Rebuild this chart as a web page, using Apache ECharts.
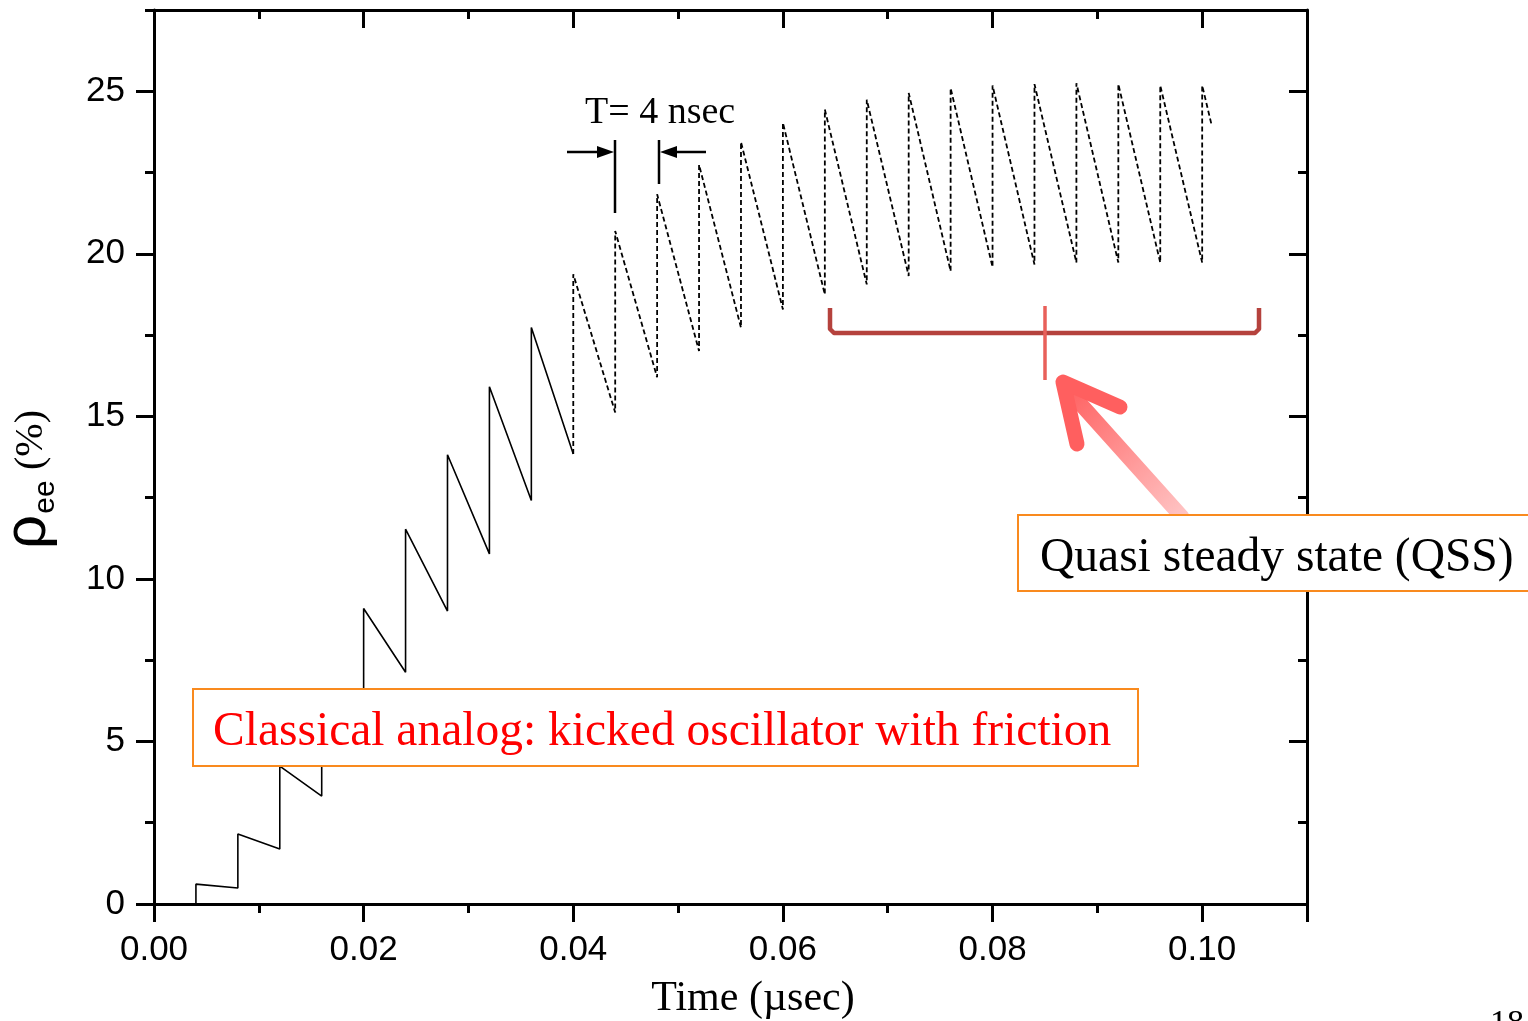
<!DOCTYPE html>
<html lang="en">
<head>
<meta charset="UTF-8">
<title>rho_ee vs time</title>
<script src="https://cdn.jsdelivr.net/npm/echarts@6/dist/echarts.min.js"></script>
<style>
    body { margin: 0; padding: 0; background: #fff; }
</style>
</head>
<body>
<div id="main" style="width:1528px;height:1021px;"></div>
<script>
// kick times (usec) and rho_ee (%) just before / just after each kick
var kickTimes = [0.004, 0.008, 0.012, 0.016, 0.020, 0.024, 0.028, 0.032, 0.036, 0.040,
                 0.044, 0.048, 0.052, 0.056, 0.060, 0.064, 0.068, 0.072, 0.076, 0.080,
                 0.084, 0.088, 0.092, 0.096, 0.100];
var beforeKick = [0, 0.49, 1.69, 3.32, 5.2, 7.13, 9.01, 10.77, 12.41, 13.84,
                  15.12, 16.20, 17.01, 17.73, 18.29, 18.75, 19.06, 19.32, 19.47, 19.59,
                  19.67, 19.73, 19.73, 19.73, 19.73];
var afterKick = [0.61, 2.15, 4.24, 6.63, 9.09, 11.53, 13.82, 15.91, 17.73, 19.37,
                 20.70, 21.83, 22.74, 23.44, 24.03, 24.44, 24.74, 24.95, 25.10, 25.18,
                 25.22, 25.25, 25.22, 25.18, 25.18];
var lastPoint = [0.1009, 23.96];
var dashFrom = 0.040;

var xLabelTicks = [0, 0.02, 0.04, 0.06, 0.08, 0.10];
var xMajorTicks = [0, 0.02, 0.04, 0.06, 0.08, 0.10, 0.11];
var xMinorTicks = [0.01, 0.03, 0.05, 0.07, 0.09];
var yMajorTicks = [0, 5, 10, 15, 20, 25];
var yMinorTicks = [2.5, 7.5, 12.5, 17.5, 22.5, 27.5];

var solidData = [];
var dashData = [];
kickTimes.forEach(function (t, i) {
    if (t <= dashFrom) solidData.push([t, beforeKick[i]]);
    if (t < dashFrom) solidData.push([t, afterKick[i]]);
    if (t >= dashFrom) {
        dashData.push([t, beforeKick[i]]);
        dashData.push([t, afterKick[i]]);
    }
});
dashData.push(lastPoint);

var sans = 'Liberation Sans';
var serif = 'Liberation Serif';

function axis(pos, min, max, ticks, len, inside, opts) {
    opts = opts || {};
    return {
        type: 'value', position: pos, min: min, max: max,
        axisLine: { show: !!opts.line, onZero: false, lineStyle: { color: '#000', width: 3 } },
        axisTick: { show: true, inside: inside, length: len, customValues: ticks,
                    lineStyle: { color: '#000', width: 3 } },
        axisLabel: opts.labels ? {
            show: true, customValues: opts.labels, margin: opts.margin,
            fontFamily: sans, fontSize: 35, color: '#000',
            formatter: opts.fmt
        } : { show: false },
        splitLine: { show: false }
    };
}

var chart = echarts.init(document.getElementById('main'));
var option = {
    animation: false,
    backgroundColor: '#fff',
    grid: { left: 154, right: 221, top: 10, bottom: 117, containLabel: false, outerBoundsMode: 'none' },
    xAxis: [
        axis('bottom', 0, 0.11, xMajorTicks, 18, false, { line: true, labels: xLabelTicks, margin: 29,
            fmt: function (v) { return v.toFixed(2); } }),
        axis('bottom', 0, 0.11, xMinorTicks, 9, false),
        axis('top', 0, 0.11, xMajorTicks, 18, true, { line: true }),
        axis('top', 0, 0.11, xMinorTicks, 9, true)
    ],
    yAxis: [
        axis('left', 0, 27.5, yMajorTicks, 18, false, { line: true, labels: yMajorTicks, margin: 29,
            fmt: function (v) { return String(v); } }),
        axis('left', 0, 27.5, yMinorTicks, 9, false),
        axis('right', 0, 27.5, yMajorTicks, 18, true, { line: true }),
        axis('right', 0, 27.5, yMinorTicks, 9, true)
    ],
    series: [
        {
            type: 'line', data: solidData, showSymbol: false, xAxisIndex: 0, yAxisIndex: 0,
            lineStyle: { color: '#000', width: 1.6 }
        },
        {
            type: 'line', data: dashData, showSymbol: false, xAxisIndex: 0, yAxisIndex: 0,
            lineStyle: { color: '#000', width: 1.8, type: [5, 3] }
        }
    ],
    graphic: [
        // axis titles
        { type: 'text', x: 753, y: 999, z: 50,
          style: { text: 'Time (\u00b5sec)', font: '42px ' + serif, fill: '#000', align: 'center', verticalAlign: 'middle' } },
        { type: 'text', x: 28, y: 532, rotation: Math.PI / 2, z: 50,
          style: { text: '\u03c1', font: '60px ' + sans, fill: '#000', align: 'center', verticalAlign: 'middle' } },
        { type: 'text', x: 46, y: 497, rotation: Math.PI / 2, z: 50,
          style: { text: 'ee', font: '30px ' + sans, fill: '#000', align: 'center', verticalAlign: 'middle' } },
        { type: 'text', x: 31, y: 440, rotation: Math.PI / 2, z: 50,
          style: { text: '(%)', font: '40px ' + serif, fill: '#000', align: 'center', verticalAlign: 'middle' } },

        // period marker
        { type: 'text', x: 585, y: 113, z: 50,
          style: { text: 'T= 4 nsec', font: '38px ' + serif, fill: '#000', align: 'left', verticalAlign: 'middle' } },
        { type: 'line', z: 50, shape: { x1: 567, y1: 152, x2: 600, y2: 152 }, style: { stroke: '#000', lineWidth: 2.5 } },
        { type: 'polygon', z: 50, shape: { points: [[614, 152], [597, 146], [597, 158]] }, style: { fill: '#000' } },
        { type: 'line', z: 50, shape: { x1: 615, y1: 140, x2: 615, y2: 213 }, style: { stroke: '#000', lineWidth: 2.5 } },
        { type: 'line', z: 50, shape: { x1: 659, y1: 140, x2: 659, y2: 184 }, style: { stroke: '#000', lineWidth: 2.5 } },
        { type: 'line', z: 50, shape: { x1: 674, y1: 152, x2: 706, y2: 152 }, style: { stroke: '#000', lineWidth: 2.5 } },
        { type: 'polygon', z: 50, shape: { points: [[660, 152], [677, 146], [677, 158]] }, style: { fill: '#000' } },

        // QSS bracket
        { type: 'polyline', z: 50,
          shape: { points: [[830, 308], [830, 329], [834, 333], [1255, 333], [1259, 329], [1259, 308]] },
          style: { stroke: '#b5423d', lineWidth: 4.5, fill: null, lineJoin: 'round' } },
        { type: 'line', z: 51, shape: { x1: 1045, y1: 306, x2: 1045, y2: 380 },
          style: { stroke: '#e8605a', lineWidth: 3.5 } },

        // big arrow
        { type: 'line', z: 50, shape: { x1: 1182, y1: 517, x2: 1068, y2: 390 },
          style: { lineWidth: 15, lineCap: 'round',
                   stroke: { type: 'linear', x: 0, y: 0, x2: 1, y2: 1,
                             colorStops: [{ offset: 0, color: '#ff5c5c' }, { offset: 1, color: '#ffcaca' }] } } },
        { type: 'polyline', z: 50, shape: { points: [[1077, 444], [1063, 382], [1120, 407]] },
          style: { stroke: '#ff5f5f', lineWidth: 15, lineCap: 'round', lineJoin: 'round', fill: null } },

        // text boxes
        { type: 'rect', z: 60, shape: { x: 1018, y: 515, width: 530, height: 76 },
          style: { fill: '#fff', stroke: '#f98a1e', lineWidth: 2 } },
        { type: 'text', x: 1040, y: 559, z: 61,
          style: { text: 'Quasi steady state (QSS)', font: '47.5px ' + serif, fill: '#000', align: 'left', verticalAlign: 'middle' } },
        { type: 'rect', z: 60, shape: { x: 193, y: 689, width: 945, height: 77 },
          style: { fill: '#fff', stroke: '#f98a1e', lineWidth: 2 } },
        { type: 'text', x: 213, y: 733, z: 61,
          style: { text: 'Classical analog: kicked oscillator with friction', font: '47.5px ' + serif, fill: '#ff0000', align: 'left', verticalAlign: 'middle' } },

        // slide number
        { type: 'text', x: 1490, y: 1007, z: 50,
          style: { text: '18', font: '34px ' + serif, fill: '#000', align: 'left', verticalAlign: 'top' } }
    ]
};
chart.setOption(option);
</script>
</body>
</html>
